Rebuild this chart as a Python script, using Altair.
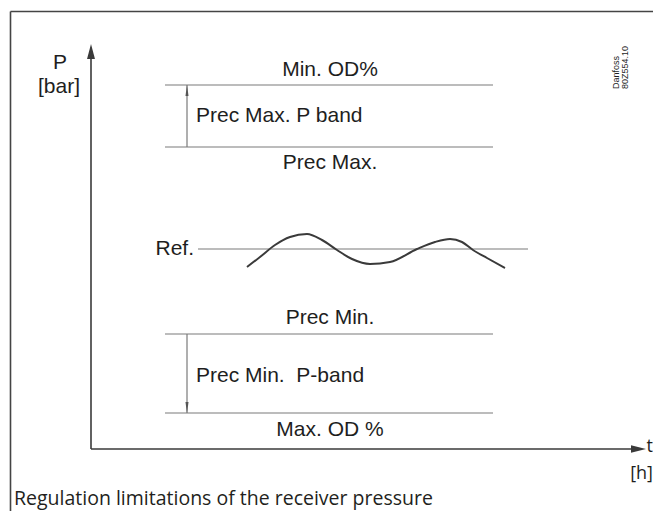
import altair as alt
import pandas as pd

# Data space: t (time) and P (pressure) in arbitrary units, origin where the axes meet
X_DOMAIN = [-83, 562]
Y_DOMAIN = [-62, 441]

# Horizontal limit lines
line_names = ["Min. OD%", "Prec Max.", "Ref.", "Prec Min.", "Max. OD %"]
line_P = [364, 302, 200, 115, 36]
line_t0 = [74, 74, 107, 74, 74]
line_t1 = [402, 402, 437, 402, 402]

# Measured pressure curve around the reference
wave_t = [156, 169, 184, 199, 216, 231, 246, 261, 279, 299, 326, 344, 359, 371, 382, 396, 414]
wave_P = [182, 192, 204, 212, 215, 209, 199, 190, 185, 187, 200, 207, 210, 207, 199, 191, 181]

# Band arrows (from line -> to line)
band_t = [96, 96]
band_from = [302, 115]
band_to = [364, 36]

# Axes extent (arrow tips)
axis_tip_P = 405
axis_tip_t = 555

# Outer frame
frame_t = -80.5
frame_P = 437.5

# Centered labels
center_text = ["Min. OD%", "Prec Max.", "Prec Min.", "Max. OD %", "P", "[bar]"]
center_t = [239, 239, 239, 239, -31, -32]
center_P = [379, 286, 131, 19, 386, 362]

# Left-aligned labels
left_text = ["Prec Max. P band", "Prec Min.\u00a0 P-band"]
left_t = [105, 105]
left_P = [333, 73]

ref_text = ["Ref."]
ref_t = [103]
ref_P = [200]

unit_text = ["t", "[h]"]
unit_t = [562, 562]
unit_P = [2, -25]

caption = "Regulation limitations of the receiver pressure"
caption_t = -77
caption_P = -50

code_text = ["Danfoss", "80Z554.10"]
code_t = [525, 534]
code_P = [360, 360]

DARK = "#3a3a3a"
GREY = "#7a7a7a"
TXT = "#1e1e1e"


def X(f):
    return alt.X(f + ":Q", scale=alt.Scale(domain=X_DOMAIN), axis=None)


def Y(f):
    return alt.Y(f + ":Q", scale=alt.Scale(domain=Y_DOMAIN), axis=None)


lines_df = pd.DataFrame({"name": line_names, "P": line_P, "t0": line_t0, "t1": line_t1})
hlines = alt.Chart(lines_df).mark_rule(color=GREY, strokeWidth=1.2).encode(
    x=X("t0"), x2=alt.X2("t1"), y=Y("P")
)

wave_df = pd.DataFrame({"t": wave_t, "P": wave_P})
wave = alt.Chart(wave_df).mark_line(color=DARK, strokeWidth=2, interpolate="monotone").encode(
    x=X("t"), y=Y("P")
)

band_df = pd.DataFrame({"t": band_t, "a": band_from, "b": band_to})
bands = alt.Chart(band_df).mark_rule(color=GREY, strokeWidth=1.2).encode(
    x=X("t"), y=Y("a"), y2=alt.Y2("b")
)

# axes
axis_df = pd.DataFrame({
    "t0": [0, 0], "t1": [0, axis_tip_t - 8], "P0": [0, 0], "P1": [axis_tip_P - 8, 0]
})
axes = alt.Chart(axis_df).mark_rule(color=DARK, strokeWidth=1.6).encode(
    x=X("t0"), x2=alt.X2("t1"), y=Y("P0"), y2=alt.Y2("P1")
)

UP_BIG = "M0,-1L0.53,1L-0.53,1Z"
RIGHT_BIG = "M1,0L-1,-0.5L-1,0.5Z"
UP_SMALL = "M0,-1L0.28,1L-0.28,1Z"
DOWN_SMALL = "M0,1L0.28,-1L-0.28,-1Z"
heads_df = pd.DataFrame({
    "t": [0, axis_tip_t - 7.5, band_t[0], band_t[1]],
    "P": [axis_tip_P - 7.5, 0, band_to[0] - 5.5, band_to[1] + 5.5],
    "shape": [UP_BIG, RIGHT_BIG, UP_SMALL, DOWN_SMALL],
    "size": [225, 225, 121, 121],
    "col": [DARK, DARK, "#555555", "#555555"],
})
heads = alt.Chart(heads_df).mark_point(filled=True, opacity=1, strokeWidth=0).encode(
    x=X("t"), y=Y("P"),
    shape=alt.Shape("shape:N", scale=None),
    size=alt.Size("size:Q", scale=None),
    color=alt.Color("col:N", scale=None),
)

frame_df = pd.DataFrame({
    "t0": [frame_t, frame_t], "t1": [X_DOMAIN[1], frame_t],
    "P0": [frame_P, frame_P], "P1": [frame_P, Y_DOMAIN[0]],
})
frame = alt.Chart(frame_df).mark_rule(color="#444444", strokeWidth=1.6).encode(
    x=X("t0"), x2=alt.X2("t1"), y=Y("P0"), y2=alt.Y2("P1")
)

FONT = "Liberation Sans"
FONT2 = "Open Sans"

ctext = alt.Chart(pd.DataFrame({"s": center_text, "t": center_t, "P": center_P})).mark_text(
    font=FONT, fontSize=21, color=TXT, align="center", baseline="middle"
).encode(x=X("t"), y=Y("P"), text="s:N")

ltext = alt.Chart(pd.DataFrame({"s": left_text, "t": left_t, "P": left_P})).mark_text(
    font=FONT, fontSize=21, color=TXT, align="left", baseline="middle"
).encode(x=X("t"), y=Y("P"), text="s:N")

rtext = alt.Chart(pd.DataFrame({"s": ref_text, "t": ref_t, "P": ref_P})).mark_text(
    font=FONT, fontSize=21, color=TXT, align="right", baseline="middle"
).encode(x=X("t"), y=Y("P"), text="s:N")

units = alt.Chart(pd.DataFrame({"s": unit_text, "t": unit_t, "P": unit_P})).mark_text(
    font=FONT2, fontSize=18, color=TXT, align="right", baseline="middle"
).encode(x=X("t"), y=Y("P"), text="s:N")

cap = alt.Chart(pd.DataFrame({"s": [caption], "t": [caption_t], "P": [caption_P]})).mark_text(
    font=FONT2, fontSize=19.5, color="#231f20", align="left", baseline="middle"
).encode(x=X("t"), y=Y("P"), text="s:N")

code = alt.Chart(pd.DataFrame({"s": code_text, "t": code_t, "P": code_P})).mark_text(
    font=FONT, fontSize=9, color=TXT, align="left", baseline="middle", angle=270
).encode(x=X("t"), y=Y("P"), text="s:N")

chart = alt.layer(
    frame, hlines, bands, axes, heads, wave, ctext, ltext, rtext, units, cap, code
).properties(
    width=645, height=503, padding=0, autosize=alt.AutoSizeParams(type="none"),
    background="white",
).configure_view(stroke=None)

chart.save("out.html", embed_options={"renderer": "svg", "actions": False})
